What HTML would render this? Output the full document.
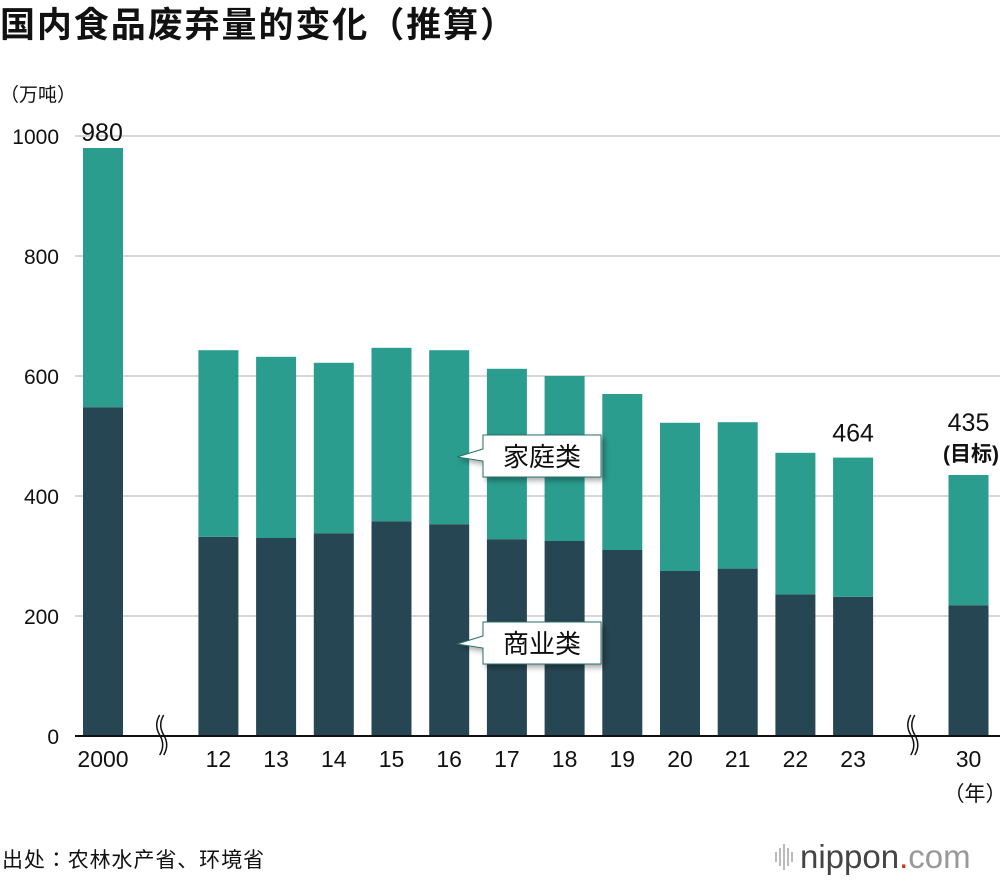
<!DOCTYPE html>
<html><head><meta charset="utf-8">
<style>
body{margin:0;background:#fff;width:1000px;height:880px;overflow:hidden;font-family:"Liberation Sans","Noto Sans CJK JP",sans-serif;}
svg text{font-family:"Liberation Sans","Noto Sans CJK JP",sans-serif;}
</style></head>
<body>
<svg id="chart" width="1000" height="880">
<defs>
<filter id="sh" x="-20%" y="-20%" width="150%" height="160%"><feDropShadow dx="3" dy="3" stdDeviation="3" flood-color="#000" flood-opacity="0.35"/></filter>
</defs>
<text x="0" y="37" font-size="35" font-weight="bold" fill="#111" textLength="515">国内食品废弃量的变化（推算）</text>
<text x="0" y="101" font-size="19" fill="#111">（万吨）</text>
<g id="grid"></g>
<g id="bars"></g>
<g id="labels"></g>
<text x="2" y="867" font-size="21" fill="#111" textLength="262">出处：农林水产省、环境省</text>
<g>
<g fill="#bbb"><rect x="775" y="852" width="2" height="10"/><rect x="779" y="848" width="2" height="18"/><rect x="783" y="844" width="2" height="26"/><rect x="787" y="848" width="2" height="18"/><rect x="791" y="852" width="2" height="10"/></g>
<text x="800" y="868" font-size="33" fill="#444">nippon<tspan fill="#e0281e">.</tspan><tspan fill="#999">com</tspan></text>
</g>
</svg>
<script>
const categories=["2000","12","13","14","15","16","17","18","19","20","21","22","23","30"];
const breakBefore=[false,true,false,false,false,false,false,false,false,false,false,false,false,true];
const commercial=[548,332,330,338,358,353,328,325,310,275,279,236,232,218];
const household=[432,311,302,284,289,290,284,275,260,247,244,236,232,217];
const yTicks=[0,200,400,600,800,1000];
const NS="http://www.w3.org/2000/svg";
const y0=736,pxPer=0.6,x0=103,slotW=57.7,barW=40;
function yScale(v){return y0-v*pxPer;}
const slots=[];let s=0;
categories.forEach((c,i)=>{if(i>0)s+=breakBefore[i]?2:1;slots.push(s);});
function xScale(i){return x0+slots[i]*slotW;}
function mk(tag,attrs,parent){const e=document.createElementNS(NS,tag);for(const k in attrs)e.setAttribute(k,attrs[k]);parent.appendChild(e);return e;}
const grid=document.getElementById('grid'),bars=document.getElementById('bars'),labels=document.getElementById('labels');
yTicks.forEach(t=>{
 if(t>0){const l=mk('line',{x1:75,x2:1000,y1:yScale(t),y2:yScale(t),stroke:'#ccc','stroke-width':1.5},grid);
 
 }
 const tx=mk('text',{x:59,y:yScale(t)+8,'font-size':21,'text-anchor':'end',fill:'#111'},grid);tx.textContent=t;
 
 
});
categories.forEach((c,i)=>{
 const cx=xScale(i),x=cx-barW/2;
 const tot=commercial[i]+household[i];
 const r1=mk('rect',{x:x,y:yScale(commercial[i]),width:barW,height:commercial[i]*pxPer,fill:'#274653'},bars);
 
 
 const r2=mk('rect',{x:x,y:yScale(tot),width:barW,height:household[i]*pxPer,fill:'#2a9d8f'},bars);
 
 
 const tx=mk('text',{x:cx,y:767,'font-size':23,'text-anchor':'middle',fill:'#111'},labels);tx.textContent=c;
 
 
 if(breakBefore[i]){
  const bx=(xScale(i)+xScale(i-1))/2+ (i===1?-3:-2);
  const p=mk('path',{d:`M${bx+2} 715 q-6 10 0 20 q6 10 0 20 M${bx+6} 715 q-6 10 0 20 q6 10 0 20`,fill:'none',stroke:'#111','stroke-width':1.5},labels);
  
  
 }
});
const ax=mk('line',{x1:75,x2:1000,y1:y0,y2:y0,stroke:'#111','stroke-width':2},labels);


[0,12,13].forEach(i=>{
 const tot=commercial[i]+household[i];
 const ty=i===13?yScale(tot)-44:yScale(tot)-16;
 const tx=mk('text',{x:xScale(i)+(i===0?-1:0),y:i===0?yScale(tot)-7:ty,'font-size':25,'text-anchor':'middle',fill:'#111'},labels);tx.textContent=tot;
 
 
 if(i===13){const t2=mk('text',{x:999,y:ty+30,'font-size':21,'font-weight':'bold','text-anchor':'end',fill:'#111'},labels);t2.textContent='(目标)';
 
 }
});
const yr=mk('text',{x:975,y:801,'font-size':21,'text-anchor':'middle',fill:'#111'},labels);yr.textContent='（年）';


function callout(x,y,txt,name){
 const g=mk('g',{filter:'url(#sh)'},labels);
 
 
 mk('path',{d:`M${x} ${y} h118 v42 h-118 v-16 l-26 -4 l26 -8 z`,fill:'#fff',stroke:'#2a6f6a','stroke-width':1},g);
 const t=mk('text',{x:x+59,y:y+31,'font-size':26,'text-anchor':'middle',fill:'#111'},g);t.textContent=txt;
}
callout(483,435,'家庭类','callout-household');
callout(483,622,'商业类','callout-commercial');
</script>
</body></html>
